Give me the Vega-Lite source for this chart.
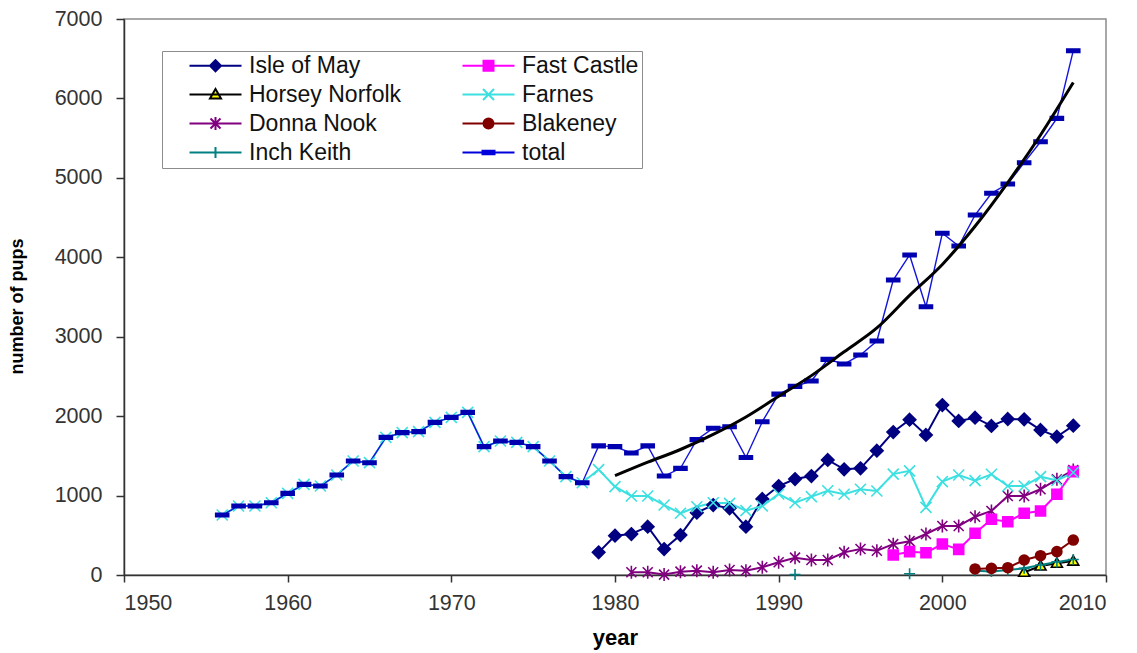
{
  "$schema": "https://vega.github.io/schema/vega-lite/v6.json",
  "width": 982,
  "height": 556,
  "autosize": {"type": "none"},
  "padding": {"left": 124, "top": 19, "right": 31, "bottom": 78},
  "background": "white",
  "config": {
    "font": "Liberation Sans",
    "view": {"stroke": "#8c8c8c", "strokeWidth": 1.5},
    "axis": {"grid": false, "domainColor": "#333333", "domainWidth": 1.5, "tickColor": "#333333", "tickWidth": 1.5, "labelColor": "#333333", "labelFontSize": 21.5, "labelFont": "Liberation Sans", "titleFont": "Liberation Sans", "titleColor": "#000000", "titleFontWeight": "bold"}
  },
  "datasets": {
    "pups": [
      {"series": "Isle of May", "year": 1979, "pups": 285},
      {"series": "Isle of May", "year": 1980, "pups": 495},
      {"series": "Isle of May", "year": 1981, "pups": 516},
      {"series": "Isle of May", "year": 1982, "pups": 608},
      {"series": "Isle of May", "year": 1983, "pups": 327},
      {"series": "Isle of May", "year": 1984, "pups": 503},
      {"series": "Isle of May", "year": 1985, "pups": 785},
      {"series": "Isle of May", "year": 1986, "pups": 881},
      {"series": "Isle of May", "year": 1987, "pups": 839},
      {"series": "Isle of May", "year": 1988, "pups": 608},
      {"series": "Isle of May", "year": 1989, "pups": 957},
      {"series": "Isle of May", "year": 1990, "pups": 1120},
      {"series": "Isle of May", "year": 1991, "pups": 1208},
      {"series": "Isle of May", "year": 1992, "pups": 1246},
      {"series": "Isle of May", "year": 1993, "pups": 1448},
      {"series": "Isle of May", "year": 1994, "pups": 1331},
      {"series": "Isle of May", "year": 1995, "pups": 1343},
      {"series": "Isle of May", "year": 1996, "pups": 1565},
      {"series": "Isle of May", "year": 1997, "pups": 1800},
      {"series": "Isle of May", "year": 1998, "pups": 1955},
      {"series": "Isle of May", "year": 1999, "pups": 1763},
      {"series": "Isle of May", "year": 2000, "pups": 2140},
      {"series": "Isle of May", "year": 2001, "pups": 1939},
      {"series": "Isle of May", "year": 2002, "pups": 1980},
      {"series": "Isle of May", "year": 2003, "pups": 1876},
      {"series": "Isle of May", "year": 2004, "pups": 1964},
      {"series": "Isle of May", "year": 2005, "pups": 1960},
      {"series": "Isle of May", "year": 2006, "pups": 1826},
      {"series": "Isle of May", "year": 2007, "pups": 1741},
      {"series": "Isle of May", "year": 2008, "pups": 1880},
      {"series": "Horsey Norfolk", "year": 2005, "pups": 34},
      {"series": "Horsey Norfolk", "year": 2006, "pups": 113},
      {"series": "Horsey Norfolk", "year": 2007, "pups": 147},
      {"series": "Horsey Norfolk", "year": 2008, "pups": 175},
      {"series": "Donna Nook", "year": 1981, "pups": 34},
      {"series": "Donna Nook", "year": 1982, "pups": 34},
      {"series": "Donna Nook", "year": 1983, "pups": 5},
      {"series": "Donna Nook", "year": 1984, "pups": 42},
      {"series": "Donna Nook", "year": 1985, "pups": 55},
      {"series": "Donna Nook", "year": 1986, "pups": 34},
      {"series": "Donna Nook", "year": 1987, "pups": 63},
      {"series": "Donna Nook", "year": 1988, "pups": 55},
      {"series": "Donna Nook", "year": 1989, "pups": 97},
      {"series": "Donna Nook", "year": 1990, "pups": 160},
      {"series": "Donna Nook", "year": 1991, "pups": 218},
      {"series": "Donna Nook", "year": 1992, "pups": 189},
      {"series": "Donna Nook", "year": 1993, "pups": 189},
      {"series": "Donna Nook", "year": 1994, "pups": 285},
      {"series": "Donna Nook", "year": 1995, "pups": 327},
      {"series": "Donna Nook", "year": 1996, "pups": 306},
      {"series": "Donna Nook", "year": 1997, "pups": 388},
      {"series": "Donna Nook", "year": 1998, "pups": 426},
      {"series": "Donna Nook", "year": 1999, "pups": 516},
      {"series": "Donna Nook", "year": 2000, "pups": 617},
      {"series": "Donna Nook", "year": 2001, "pups": 617},
      {"series": "Donna Nook", "year": 2002, "pups": 734},
      {"series": "Donna Nook", "year": 2003, "pups": 806},
      {"series": "Donna Nook", "year": 2004, "pups": 995},
      {"series": "Donna Nook", "year": 2005, "pups": 995},
      {"series": "Donna Nook", "year": 2006, "pups": 1079},
      {"series": "Donna Nook", "year": 2007, "pups": 1204},
      {"series": "Donna Nook", "year": 2008, "pups": 1322},
      {"series": "Inch Keith", "year": 1991, "pups": 5},
      {"series": "Inch Keith", "year": 1992, "pups": null},
      {"series": "Inch Keith", "year": 1998, "pups": 15},
      {"series": "Inch Keith", "year": 1999, "pups": null},
      {"series": "Inch Keith", "year": 2002, "pups": 55},
      {"series": "Inch Keith", "year": 2003, "pups": 45},
      {"series": "Inch Keith", "year": 2004, "pups": 63},
      {"series": "Inch Keith", "year": 2005, "pups": 84},
      {"series": "Inch Keith", "year": 2006, "pups": 126},
      {"series": "Inch Keith", "year": 2007, "pups": 165},
      {"series": "Inch Keith", "year": 2008, "pups": 195},
      {"series": "Fast Castle", "year": 1997, "pups": 252},
      {"series": "Fast Castle", "year": 1998, "pups": 294},
      {"series": "Fast Castle", "year": 1999, "pups": 281},
      {"series": "Fast Castle", "year": 2000, "pups": 390},
      {"series": "Fast Castle", "year": 2001, "pups": 323},
      {"series": "Fast Castle", "year": 2002, "pups": 525},
      {"series": "Fast Castle", "year": 2003, "pups": 701},
      {"series": "Fast Castle", "year": 2004, "pups": 671},
      {"series": "Fast Castle", "year": 2005, "pups": 777},
      {"series": "Fast Castle", "year": 2006, "pups": 806},
      {"series": "Fast Castle", "year": 2007, "pups": 1016},
      {"series": "Fast Castle", "year": 2008, "pups": 1301},
      {"series": "Farnes", "year": 1956, "pups": 755},
      {"series": "Farnes", "year": 1957, "pups": 869},
      {"series": "Farnes", "year": 1958, "pups": 869},
      {"series": "Farnes", "year": 1959, "pups": 910},
      {"series": "Farnes", "year": 1960, "pups": 1028},
      {"series": "Farnes", "year": 1961, "pups": 1141},
      {"series": "Farnes", "year": 1962, "pups": 1120},
      {"series": "Farnes", "year": 1963, "pups": 1259},
      {"series": "Farnes", "year": 1964, "pups": 1435},
      {"series": "Farnes", "year": 1965, "pups": 1414},
      {"series": "Farnes", "year": 1966, "pups": 1733},
      {"series": "Farnes", "year": 1967, "pups": 1792},
      {"series": "Farnes", "year": 1968, "pups": 1805},
      {"series": "Farnes", "year": 1969, "pups": 1922},
      {"series": "Farnes", "year": 1970, "pups": 1985},
      {"series": "Farnes", "year": 1971, "pups": 2048},
      {"series": "Farnes", "year": 1972, "pups": 1616},
      {"series": "Farnes", "year": 1973, "pups": 1687},
      {"series": "Farnes", "year": 1974, "pups": 1670},
      {"series": "Farnes", "year": 1975, "pups": 1616},
      {"series": "Farnes", "year": 1976, "pups": 1435},
      {"series": "Farnes", "year": 1977, "pups": 1238},
      {"series": "Farnes", "year": 1978, "pups": 1162},
      {"series": "Farnes", "year": 1979, "pups": 1326},
      {"series": "Farnes", "year": 1980, "pups": 1112},
      {"series": "Farnes", "year": 1981, "pups": 995},
      {"series": "Farnes", "year": 1982, "pups": 995},
      {"series": "Farnes", "year": 1983, "pups": 881},
      {"series": "Farnes", "year": 1984, "pups": 777},
      {"series": "Farnes", "year": 1985, "pups": 860},
      {"series": "Farnes", "year": 1986, "pups": 910},
      {"series": "Farnes", "year": 1987, "pups": 902},
      {"series": "Farnes", "year": 1988, "pups": 810},
      {"series": "Farnes", "year": 1989, "pups": 869},
      {"series": "Farnes", "year": 1990, "pups": 1020},
      {"series": "Farnes", "year": 1991, "pups": 910},
      {"series": "Farnes", "year": 1992, "pups": 986},
      {"series": "Farnes", "year": 1993, "pups": 1061},
      {"series": "Farnes", "year": 1994, "pups": 1016},
      {"series": "Farnes", "year": 1995, "pups": 1079},
      {"series": "Farnes", "year": 1996, "pups": 1058},
      {"series": "Farnes", "year": 1997, "pups": 1270},
      {"series": "Farnes", "year": 1998, "pups": 1311},
      {"series": "Farnes", "year": 1999, "pups": 852},
      {"series": "Farnes", "year": 2000, "pups": 1175},
      {"series": "Farnes", "year": 2001, "pups": 1259},
      {"series": "Farnes", "year": 2002, "pups": 1188},
      {"series": "Farnes", "year": 2003, "pups": 1268},
      {"series": "Farnes", "year": 2004, "pups": 1120},
      {"series": "Farnes", "year": 2005, "pups": 1120},
      {"series": "Farnes", "year": 2006, "pups": 1238},
      {"series": "Farnes", "year": 2007, "pups": 1190},
      {"series": "Farnes", "year": 2008, "pups": 1290},
      {"series": "Blakeney", "year": 2002, "pups": 76},
      {"series": "Blakeney", "year": 2003, "pups": 84},
      {"series": "Blakeney", "year": 2004, "pups": 92},
      {"series": "Blakeney", "year": 2005, "pups": 189},
      {"series": "Blakeney", "year": 2006, "pups": 243},
      {"series": "Blakeney", "year": 2007, "pups": 294},
      {"series": "Blakeney", "year": 2008, "pups": 440},
      {"series": "total", "year": 1956, "pups": 755},
      {"series": "total", "year": 1957, "pups": 869},
      {"series": "total", "year": 1958, "pups": 869},
      {"series": "total", "year": 1959, "pups": 910},
      {"series": "total", "year": 1960, "pups": 1028},
      {"series": "total", "year": 1961, "pups": 1141},
      {"series": "total", "year": 1962, "pups": 1120},
      {"series": "total", "year": 1963, "pups": 1259},
      {"series": "total", "year": 1964, "pups": 1435},
      {"series": "total", "year": 1965, "pups": 1414},
      {"series": "total", "year": 1966, "pups": 1733},
      {"series": "total", "year": 1967, "pups": 1792},
      {"series": "total", "year": 1968, "pups": 1805},
      {"series": "total", "year": 1969, "pups": 1922},
      {"series": "total", "year": 1970, "pups": 1985},
      {"series": "total", "year": 1971, "pups": 2048},
      {"series": "total", "year": 1972, "pups": 1616},
      {"series": "total", "year": 1973, "pups": 1687},
      {"series": "total", "year": 1974, "pups": 1670},
      {"series": "total", "year": 1975, "pups": 1616},
      {"series": "total", "year": 1976, "pups": 1435},
      {"series": "total", "year": 1977, "pups": 1238},
      {"series": "total", "year": 1978, "pups": 1162},
      {"series": "total", "year": 1979, "pups": 1626},
      {"series": "total", "year": 1980, "pups": 1616},
      {"series": "total", "year": 1981, "pups": 1536},
      {"series": "total", "year": 1982, "pups": 1626},
      {"series": "total", "year": 1983, "pups": 1246},
      {"series": "total", "year": 1984, "pups": 1343},
      {"series": "total", "year": 1985, "pups": 1704},
      {"series": "total", "year": 1986, "pups": 1847},
      {"series": "total", "year": 1987, "pups": 1867},
      {"series": "total", "year": 1988, "pups": 1480},
      {"series": "total", "year": 1989, "pups": 1930},
      {"series": "total", "year": 1990, "pups": 2277},
      {"series": "total", "year": 1991, "pups": 2375},
      {"series": "total", "year": 1992, "pups": 2442},
      {"series": "total", "year": 1993, "pups": 2715},
      {"series": "total", "year": 1994, "pups": 2656},
      {"series": "total", "year": 1995, "pups": 2770},
      {"series": "total", "year": 1996, "pups": 2946},
      {"series": "total", "year": 1997, "pups": 3714},
      {"series": "total", "year": 1998, "pups": 4029},
      {"series": "total", "year": 1999, "pups": 3378},
      {"series": "total", "year": 2000, "pups": 4302},
      {"series": "total", "year": 2001, "pups": 4142},
      {"series": "total", "year": 2002, "pups": 4532},
      {"series": "total", "year": 2003, "pups": 4806},
      {"series": "total", "year": 2004, "pups": 4923},
      {"series": "total", "year": 2005, "pups": 5191},
      {"series": "total", "year": 2006, "pups": 5455},
      {"series": "total", "year": 2007, "pups": 5749},
      {"series": "total", "year": 2008, "pups": 6601}
    ],
    "trend": [
      {"year": 1980, "pups": 1250},
      {"year": 1982, "pups": 1420},
      {"year": 1984, "pups": 1580},
      {"year": 1986, "pups": 1770},
      {"year": 1988, "pups": 1990},
      {"year": 1990, "pups": 2250},
      {"year": 1992, "pups": 2510},
      {"year": 1994, "pups": 2810},
      {"year": 1996, "pups": 3110},
      {"year": 1998, "pups": 3520},
      {"year": 2000, "pups": 3910},
      {"year": 2002, "pups": 4390},
      {"year": 2004, "pups": 4940},
      {"year": 2006, "pups": 5540},
      {"year": 2008, "pups": 6200}
    ]
  },
  "encoding": {
    "x": {"field": "year", "type": "quantitative", "scale": {"domain": [1950, 2010], "nice": false, "zero": false},
      "axis": {"values": [1950, 1960, 1970, 1980, 1990, 2000, 2010], "format": "d", "title": "year", "tickSize": 7, "labelPadding": 10, "titleFontSize": 22, "titlePadding": 14}},
    "y": {"field": "pups", "type": "quantitative", "scale": {"domain": [0, 7000], "nice": false},
      "axis": {"values": [0, 1000, 2000, 3000, 4000, 5000, 6000, 7000], "format": "d", "title": "number of pups", "tickSize": 8, "labelPadding": 14, "titleFontSize": 18, "titlePadding": 28, "titleY": 287}}
  },
  "layer": [
    {
      "data": {"name": "pups"},
      "transform": [{"filter": "datum.series != 'total'"}],
      "mark": {"type": "line", "strokeWidth": 2, "invalid": "break-paths-filter-domains"},
      "encoding": {
        "stroke": {"field": "series", "type": "nominal",
          "scale": {"domain": ["Isle of May", "Horsey Norfolk", "Donna Nook", "Inch Keith", "Fast Castle", "Farnes", "Blakeney", "total"],
                    "range": ["#000080", "#000000", "#800080", "#008080", "#FF00FF", "#3CE0E0", "#800000", "#0000DD"]},
          "legend": null}
      }
    },
    {
      "data": {"name": "pups"},
      "transform": [{"filter": "datum.series == 'total'"}],
      "mark": {"type": "line", "strokeWidth": 1.4, "color": "#1414DC"},
      "encoding": {}
    },
    {
      "data": {"name": "pups"},
      "transform": [{"filter": "datum.pups != null"}],
      "mark": {"type": "point", "size": 100, "strokeWidth": 1.6, "opacity": 1, "invalid": "filter"},
      "encoding": {
        "shape": {"field": "series", "type": "nominal",
          "scale": {"domain": ["Isle of May", "Horsey Norfolk", "Donna Nook", "Inch Keith", "Fast Castle", "Farnes", "Blakeney", "total"],
                    "range": ["M0,-1.25L1.25,0L0,1.25L-1.25,0Z", "M0,-1.1L1.1,0.8L-1.1,0.8Z", "M-1,-1L1,1M1,-1L-1,1M0,-1.3L0,1.3", "M0,-1.1L0,1.1M-1.1,0L1.1,0", "M-1,-1L1,-1L1,1L-1,1Z", "M-1.1,-1.1L1.1,1.1M1.1,-1.1L-1.1,1.1", "M1,0A1,1,0,1,1,-1,0A1,1,0,1,1,1,0Z", "M-1.3,-0.35L1.3,-0.35L1.3,0.35L-1.3,0.35Z"]},
          "legend": null},
        "stroke": {"field": "series", "type": "nominal",
          "scale": {"domain": ["Isle of May", "Horsey Norfolk", "Donna Nook", "Inch Keith", "Fast Castle", "Farnes", "Blakeney", "total"],
                    "range": ["#000080", "#000000", "#800080", "#008080", "#FF00FF", "#3CE0E0", "#800000", "#0000B0"]},
          "legend": null},
        "fill": {"field": "series", "type": "nominal",
          "scale": {"domain": ["Isle of May", "Horsey Norfolk", "Donna Nook", "Inch Keith", "Fast Castle", "Farnes", "Blakeney", "total"],
                    "range": ["#000080", "#FFFF00", "#800080", "#008080", "#FF00FF", "#3CE0E0", "#800000", "#0000B0"]},
          "legend": null}
      }
    },
    {
      "data": {"name": "trend"},
      "mark": {"type": "line", "strokeWidth": 3, "color": "#000000", "interpolate": "monotone"},
      "encoding": {}
    },
    {
      "data": {"name": "pups"},
      "transform": [{"filter": "datum.year > 3000"}],
      "mark": {"type": "point", "size": 100, "strokeWidth": 2, "opacity": 1},
      "encoding": {
        "shape": {"field": "series", "type": "nominal",
          "scale": {"domain": ["Isle of May", "Horsey Norfolk", "Donna Nook", "Inch Keith", "Fast Castle", "Farnes", "Blakeney", "total"],
                    "range": ["M-5.2,0L5.2,0M0,-1.1L1.1,0L0,1.1L-1.1,0Z", "M-5.2,0L5.2,0M0,-1.1L1.1,0.8L-1.1,0.8Z", "M-5.2,0L5.2,0M-1,-1L1,1M1,-1L-1,1M0,-1.3L0,1.3", "M-5.2,0L5.2,0M0,-1.1L0,1.1", "M-5.2,0L5.2,0M-1,-1L1,-1L1,1L-1,1Z", "M-5.2,0L5.2,0M-1.1,-1.1L1.1,1.1M1.1,-1.1L-1.1,1.1", "M-5.2,0L5.2,0M1,0A1,1,0,1,1,-1,0A1,1,0,1,1,1,0Z", "M-5.2,0L5.2,0M-1.2,-0.35L1.2,-0.35L1.2,0.35L-1.2,0.35Z"]},
          "legend": {"orient": "none", "legendX": 38, "legendY": 32, "title": null, "columns": 2, "gridAlign": "all", "columnPadding": 36, "rowPadding": 5, "padding": 3, "strokeColor": "#8c8c8c", "fillColor": "white", "labelFontSize": 23, "labelColor": "#111111", "labelFont": "Liberation Sans", "symbolSize": 100, "symbolStrokeWidth": 2, "symbolOpacity": 1, "symbolOffset": 39, "labelOffset": 22, "labelLimit": 300}},
        "stroke": {"field": "series", "type": "nominal",
          "scale": {"domain": ["Isle of May", "Horsey Norfolk", "Donna Nook", "Inch Keith", "Fast Castle", "Farnes", "Blakeney", "total"],
                    "range": ["#000080", "#000000", "#800080", "#008080", "#FF00FF", "#3CE0E0", "#800000", "#0000DD"]},
          "legend": {"orient": "none", "legendX": 38, "legendY": 32, "title": null, "columns": 2, "gridAlign": "all", "columnPadding": 36, "rowPadding": 5, "padding": 3, "strokeColor": "#8c8c8c", "fillColor": "white", "labelFontSize": 23, "labelColor": "#111111", "labelFont": "Liberation Sans", "symbolSize": 100, "symbolStrokeWidth": 2, "symbolOpacity": 1, "symbolOffset": 39, "labelOffset": 22, "labelLimit": 300}},
        "fill": {"field": "series", "type": "nominal",
          "scale": {"domain": ["Isle of May", "Horsey Norfolk", "Donna Nook", "Inch Keith", "Fast Castle", "Farnes", "Blakeney", "total"],
                    "range": ["#000080", "#FFFF00", "#800080", "#008080", "#FF00FF", "#3CE0E0", "#800000", "#0000DD"]},
          "legend": {"orient": "none", "legendX": 38, "legendY": 32, "title": null, "columns": 2, "gridAlign": "all", "columnPadding": 36, "rowPadding": 5, "padding": 3, "strokeColor": "#8c8c8c", "fillColor": "white", "labelFontSize": 23, "labelColor": "#111111", "labelFont": "Liberation Sans", "symbolSize": 100, "symbolStrokeWidth": 2, "symbolOpacity": 1, "symbolOffset": 39, "labelOffset": 22, "labelLimit": 300}}
      }
    }
  ],
  "resolve": {
    "scale": {"shape": "independent", "stroke": "independent", "fill": "independent"},
    "legend": {"shape": "independent", "stroke": "independent", "fill": "independent"}
  }
}
